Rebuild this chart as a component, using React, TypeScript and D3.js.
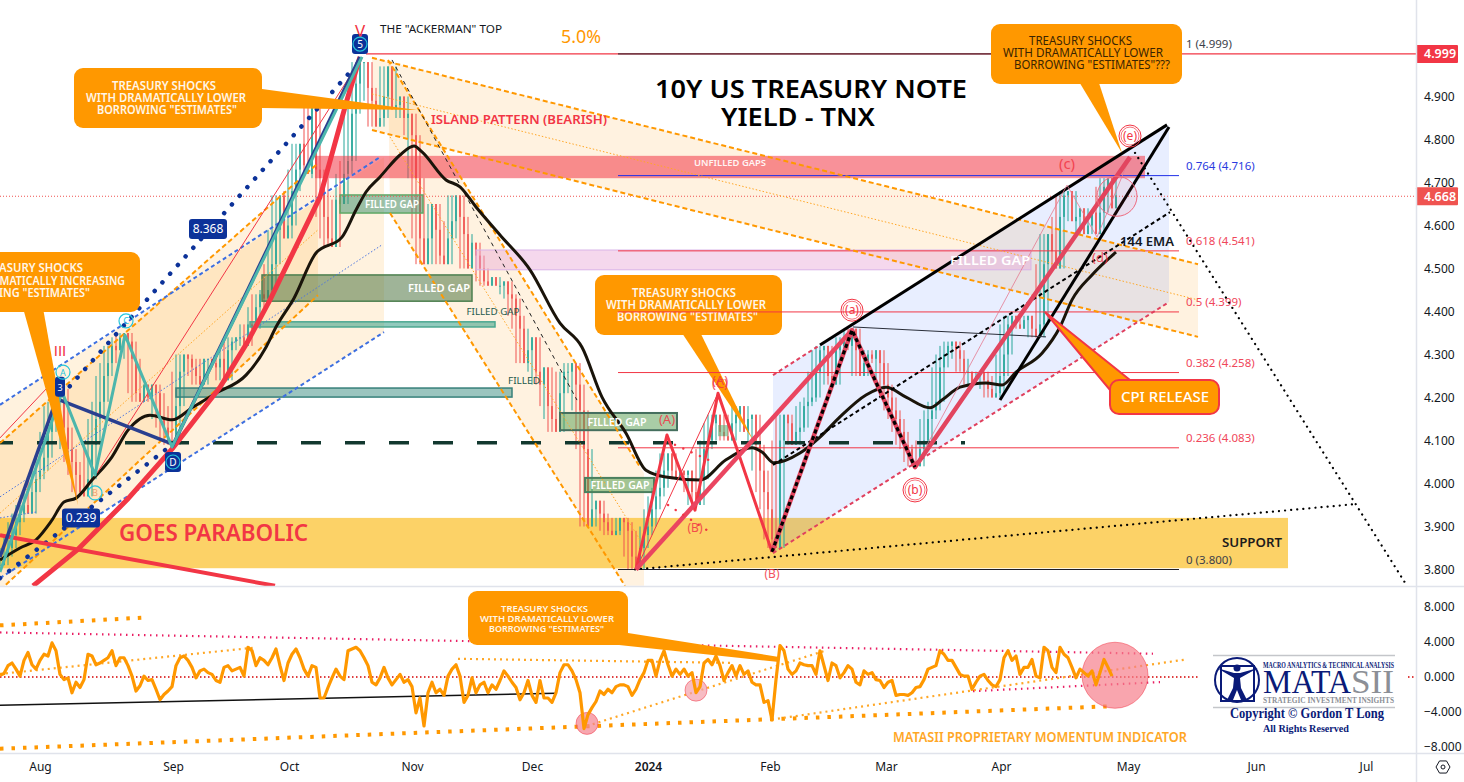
import React, { useRef, useEffect } from 'react';
import * as d3 from 'd3';

type Pt = [number, number];

// x unit is one chart bar, price in yield points
const closesA = [3.81,3.83,3.85,3.88,3.91,3.93,3.95,3.93,3.98,4.01,4.03,4.06,4.12,4.18,4.19,4.22,4.13,4.08,4.05,4.02,3.98,3.97,4.01,4.09,4.15];
const closesB = [4.19,4.25,4.28,4.32,4.31,4.34,4.35,4.33,4.29,4.21,4.19,4.23,4.20,4.23,4.21,4.15,4.13,4.10,4.09,4.18,4.26,4.30,4.29,4.27,4.25];
const closesC = [4.23,4.29,4.29,4.28,4.27,4.29,4.24,4.31,4.33,4.34,4.34,4.32,4.37,4.36,4.41,4.44,4.43,4.45,4.51,4.59,4.67,4.57,4.60,4.68,4.73];
const closesD = [4.79,4.74,4.72,4.89,4.73,4.71,4.62,4.57,4.55,4.66,4.65,4.72,4.75,4.86,4.93,4.98,4.98,4.92,4.89,4.83,4.85,4.90,4.97,4.87,4.88];
const closesE = [4.90,4.85,4.86,4.81,4.71,4.57,4.51,4.57,4.65,4.59,4.53,4.51,4.57,4.61,4.67,4.62,4.58,4.50,4.56,4.53,4.50,4.47,4.46,4.48,4.46];
const closesF = [4.46,4.47,4.44,4.43,4.39,4.36,4.28,4.31,4.34,4.26,4.23,4.27,4.18,4.15,4.12,4.21,4.26,4.26,4.28,4.23,4.17,4.08,3.90,3.94,3.96];
const closesG = [3.93,3.91,3.89,3.88,3.89,3.92,3.91,3.89,3.83,3.80,3.85,3.88,3.90,3.94,3.97,3.99,4.03,4.07,4.03,4.01,4.03,4.02,4.03,3.98,3.95];
const closesH = [4.01,4.08,4.10,4.14,4.16,4.12,4.11,4.10,4.14,4.16,4.18,4.12,4.15,4.16,4.09,4.03,3.98,3.94,3.87,3.85,4.10,4.16,4.14,4.09,4.12];
const closesI = [4.13,4.18,4.19,4.20,4.26,4.31,4.32,4.25,4.23,4.31,4.32,4.34,4.32,4.36,4.31,4.25,4.28,4.30,4.29,4.31,4.28,4.23,4.20,4.17,4.15];
const closesJ = [4.12,4.09,4.08,4.05,4.04,4.08,4.10,4.15,4.17,4.19,4.27,4.30,4.32,4.33,4.31,4.29,4.26,4.26,4.23,4.25,4.26,4.24,4.22,4.20,4.21];
const closesK = [4.25,4.30,4.37,4.39,4.37,4.36,4.38,4.39,4.36,4.34,4.37,4.51,4.58,4.54,4.50,4.62,4.67,4.68,4.61,4.62,4.64,4.58,4.60,4.63,4.58];
const closesL = [4.63,4.69,4.71,4.64,4.67];
const closes = [...closesA, ...closesB, ...closesC, ...closesD, ...closesE, ...closesF, ...closesG, ...closesH, ...closesI, ...closesJ, ...closesK, ...closesL];

const momentumA = [.2,.4,1.3,1.6,.9,.1,1.9,2.8,1.4,.9,1.9,2.6,2.4,3.9,3.0,.3,-.3,-.1,-1.8,-.6,-1.2,-.3,2.6,2.4,1.4,1.6,1.9,2.2,3.0,1.3,2.2,2.2,1.3,.1,-1.6,-1.0,.1,-.4,-.3,-1.4,-2.6,-2.0,-1.6,-1.1,1.3,2.2,2.4,1.9,1.1,-.1];
const momentumB = [.7,.9,.5,.3,-.4,-.6,1.1,1.3,.7,.9,1.1,.1,3.4,3.0,1.3,2.2,1.9,1.4,2.2,3.2,1.3,-.4,1.6,2.6,3.2,2.2,.9,.1,1.3,1.1,-2.4,-2.4,-1.2,-.1,.9,.1,-.3,3.0,3.2,3.4,3.0,2.2,1.3,-.6,-.9,-.1,1.1,-.1,-.9,-.3];
const momentumC = [.3,-.6,-.3,-1.1,-4.1,-2.4,-5.6,-1.8,-.6,-1.8,-1.4,-2.1,.1,.9,1.4,.1,-2.9,-2.1,-.1,-1.8,-.9,-.6,-1.8,-.9,-1.4,-.4,.7,.1,-.6,-1.2,-2.6,-1.8,-.4,-2.1,-2.9,-.4,-2.4,-2.4,-2.9,-1.8,.5,1.4,1.4,.7,-.3,-1.8,-5.9,-4.3,-3.5,-2.8];
const momentumD = [-1.6,-2.0,-1.4,-1.8,-1.1,-.9,-.9,-1.1,-2.1,-1.4,-.3,.5,1.9,1.9,.1,1.9,3.0,1.4,.1,.9,.3,.9,.1,.5,-1.8,-1.1,1.6,2.0,1.4,2.4,1.3,-.4,.5];
const momentumE = [1.3,.1,1.3,.3,.7,-.6,-.9,-.9,-2.9,-2.7,-4.9,-.3,3.6,3.0,.9,.3,.7,1.6,1.4,1.3,1.3,.3,3.0,1.3,-.4,1.6,1.3,-.1,.5,1.3,.9,-.6,-.9,.7,.3,.5,-.3,-.4,-1.2,-.6,-.4,-2.1,-2.0,-2.0,-2.1,-1.8,-1.2,-1.1,-.3];
const momentumF = [.9,1.1,1.3,3.0,2.6,1.9,1.9,1.1,.3,.1,.1,-1.4,-.6,.1,.3,-.4,-.9,-1.1,-.3,2.2,3.0,1.9,2.4,.3,1.1,1.1,2.0,.1,-.1,3.4,3.0,1.1,.5,3.4,2.6,2.2,1.1,-.1,.9,.5,.1,.7,-.9,.5,2.0,1.1,.1];
const momentum = [...momentumA, ...momentumB, ...momentumC, ...momentumD, ...momentumE, ...momentumF];

const ema144: Pt[] = [[0,3.822],[10,3.85],[18,3.869],[26,3.915],[32,3.957],[38,3.966],[46,4.008],[56,4.062],[64,4.124],[75,4.159],[86,4.148],[96,4.176],[108,4.21],[123,4.252],[133,4.317],[138,4.364],[147,4.431],[158,4.536],[171,4.573],[178,4.636],[183,4.678],[190,4.713],[200,4.764],[207,4.785],[211,4.771],[223,4.706],[230,4.69],[238,4.643],[250,4.578],[265,4.497],[280,4.373],[291,4.317],[301,4.201],[313,4.117],[323,4.031],[333,4.015],[350,4.008],[363,4.055],[376,4.083],[381,4.073],[387,4.048],[400,4.071],[410,4.108],[420,4.155],[433,4.206],[443,4.224],[453,4.201],[465,4.176],[471,4.194],[480,4.224],[493,4.234],[501,4.229],[508,4.259],[521,4.303],[530,4.364],[536,4.427],[546,4.485],[558,4.538]];

const fibLevels = ['1', '0.764', '0.618', '0.5', '0.382', '0.236', '0'];
const fibPrices = [4.999, 4.716, 4.541, 4.399, 4.258, 4.083, 3.8];

const priceTicks = [4.9, 4.8, 4.7, 4.6, 4.5, 4.4, 4.3, 4.2, 4.1, 4.0, 3.9, 3.8];
const momentumTicks = [8, 4, 0, -4, -8];
const monthLabels = ['Aug', 'Sep', 'Oct', 'Nov', 'Dec', '2024', 'Feb', 'Mar', 'Apr', 'May', 'Jun', 'Jul'];
const monthBars = [20, 86.5, 144.5, 206, 266, 324, 385, 443, 500.5, 564, 628, 683];

// drawings
const upChannelOuter: Pt[] = [[0,4.183],[192,4.759],[192,4.352],[0,3.78]];
const upChannelInner: Pt[] = [[0,4.094],[159,4.745],[159,4.438],[0,3.752]];
const wideChannel: Pt[] = [[186,4.99],[599,4.51],[599,4.341],[186,4.822]];
const steepChannel: Pt[] = [[194,4.985],[322,4.024],[322,3.762],[312.5,3.762],[195,4.629]];
const blueChannel: Pt[] = [[386.5,4.252],[584.5,4.834],[584.5,4.422],[386.5,3.838]];
const parabola: Pt[] = [[16.5,3.762],[38.5,3.845],[63.5,3.962],[86.5,4.083],[110,4.224],[123.5,4.327],[135,4.427],[160,4.666],[173.5,4.892],[180,4.992]];
const redDown: Pt[] = [[0,3.88],[137.5,3.762]];
const waveZig: Pt[] = [[318,3.8],[333.5,4.113],[347.5,3.938],[359,4.21],[386,3.841]];
const waveThick: Pt[] = [[318,3.8],[426,4.357]];
const waveThick2: Pt[] = [[386,3.841],[426,4.357],[457.5,4.038],[565,4.759]];
const wavePale: Pt[] = [[426,4.357],[457.5,4.038],[533.5,4.694],[548.5,4.573],[565,4.759]];
const blackZig: Pt[] = [[386,3.841],[426,4.357],[457.5,4.038]];
const tealZig: Pt[] = [[0,3.794],[31,4.213],[47.5,4.02],[62.5,4.345],[86,4.085],[181,4.992]];

const orangeDashed: Pt[][] = [
  [[0,4.094],[159,4.745]], [[0,3.752],[159,4.438]],
  [[186,4.99],[599,4.51]], [[186,4.822],[599,4.341]],
  [[194,4.985],[320,4.038]], [[195,4.629],[312.5,3.762]],
];
const orangeThinDotted: Pt[][] = [
  [[0,3.931],[159,4.59]], [[186,4.906],[599,4.427]], [[195,4.806],[320,3.869]],
];
const blueDashed: Pt[][] = [[[0,4.183],[190,4.759]], [[0,3.78],[192,4.352]]];
const blueThinDotted: Pt[][] = [[[0,3.969],[191,4.555]], [[0,3.92],[18.5,3.934]]];
const navyDotted: Pt[][] = [[[31,4.206],[176,4.962]], [[0,3.78],[86,4.09]]];
const navyLines: Pt[][] = [[[0,3.829],[29,4.206]], [[86,4.085],[180,4.992]], [[30,4.194],[85,4.094]]];
const redThin: Pt[][] = [[[0,4.106],[23.5,4.222]], [[48.5,4.024],[178.5,4.973]], [[318,3.8],[359,4.21]]];
const redDashed: Pt[][] = [[[386.5,4.252],[410,4.322]], [[386.5,3.838],[584.5,4.422]]];
const redDots: Pt[][] = [[[337.5,4.09],[356.5,4.05]], [[334,3.95],[354,3.89]]];
const blackWedge: Pt[][] = [[[410,4.322],[583.5,4.834]], [[500,4.194],[584.5,4.829]]];
const blackDashed: Pt[] = [[386.5,4.043],[585,4.631]];
const blackThin: Pt[] = [[426.5,4.364],[523,4.341]];
const blackDotted: Pt[][] = [[[317.5,3.8],[677.5,3.952]], [[567.5,4.769],[703.5,3.762]]];
const thinBlackDash: Pt[] = [[196,4.985],[288.5,4.194]];

// [bar from, bar to, price top, price bottom]
const greenGaps: number[][] = [[170,211.5,4.671,4.629],[131,236,4.485,4.424],[125,247.5,4.376,4.364],[88,256,4.222,4.201],[280,338.5,4.164,4.124],[292.5,327,4.013,3.98],[359,364,4.136,4.11]];
const unfilledZone = [157.5,572.5,4.762,4.71];
const pinkZone = [238,515.5,4.543,4.497];
const supportZone = [0,644,3.92,3.803];

// indicator pane drawings: [bar, value]
const indPink: Pt[][] = [[[0,5.09],[576.5,2.66]], [[486.5,-1.62],[580,-.58]]];
const indOrangeBig: Pt[][] = [[[0,5.9],[74.5,6.82]], [[0,-8.2],[554.5,-3.35]]];
const indOrangeSmall: Pt[][] = [[[0,.35],[127,3.35]], [[293.5,-5.6],[412.5,3.0]], [[386,-4.86],[592,1.97]], [[229,2.08],[365,1.62]]];
const indBlack: Pt[] = [[0,-3.24],[278,-1.85]];

const FONT = '"Noto Sans", sans-serif';
const SERIF = '"Liberation Serif", serif';

const App = () => {
  const ref = useRef<SVGSVGElement>(null);

  useEffect(() => {
    const svg = d3.select(ref.current);
    svg.selectAll('*').remove();

    const xBar = d3.scaleLinear().domain([0, 732]).range([0, 1464]);
    const yPrice = d3.scaleLinear().domain([3.8, 4.9]).range([569.5, 96.5]);
    const yMom = d3.scaleLinear().domain([-8, 8]).range([747, 607]);

    const defs = svg.append('defs');
    defs.append('clipPath').attr('id', 'mainClip').append('rect').attr('x', 0).attr('y', 0).attr('width', 1416).attr('height', 586);
    defs.append('clipPath').attr('id', 'indClip').append('rect').attr('x', 0).attr('y', 587).attr('width', 1416).attr('height', 166);

    const main = svg.append('g').attr('clip-path', 'url(#mainClip)');
    const ind = svg.append('g').attr('clip-path', 'url(#indClip)');
    const top = svg.append('g');

    const priceLine = d3.line<Pt>().x(d => xBar(d[0])).y(d => yPrice(d[1]));
    const momLine = d3.line<Pt>().x(d => xBar(d[0])).y(d => yMom(d[1]));

    const stroke = (g: any, gen: any, pts: Pt[], color: string, w: number, dash?: string, cap?: string, op?: number) => {
      g.append('path').attr('d', gen(pts)).attr('fill', 'none').attr('stroke', color).attr('stroke-width', w)
        .attr('stroke-dasharray', dash || null).attr('stroke-linecap', cap || 'butt').attr('stroke-linejoin', 'round')
        .attr('opacity', op === undefined ? 1 : op);
    };
    const area = (pts: Pt[], color: string, op = 1) => {
      main.append('path').attr('d', priceLine(pts) + 'Z').attr('fill', color).attr('opacity', op);
    };
    const zone = (z: number[], fill: string, op: number, border?: string, bw = 1) => {
      main.append('rect').attr('x', xBar(z[0])).attr('y', yPrice(z[2])).attr('width', xBar(z[1]) - xBar(z[0])).attr('height', yPrice(z[3]) - yPrice(z[2]))
        .attr('fill', fill).attr('fill-opacity', op).attr('stroke', border || 'none').attr('stroke-width', bw);
    };
    const txt = (g: any, x: number, y: number, s: string, o: any = {}) => {
      const t = g.append('text').attr('x', x).attr('y', y).text(s)
        .attr('font-family', o.font || FONT).attr('font-size', o.size || 12).attr('fill', o.fill || '#131722')
        .attr('font-weight', o.weight || 'normal').attr('text-anchor', o.anchor || 'start').attr('opacity', o.op === undefined ? 1 : o.op);
      if (o.len) t.attr('textLength', o.len).attr('lengthAdjust', 'spacingAndGlyphs');
      return t;
    };
    const callout = (g: any, x: number, y: number, w: number, h: number, tail: number[][], lines: any[], color: string, size: number, weight = 600, border?: string) => {
      g.append('path').attr('d', d3.line()(tail as any) + 'Z').attr('fill', '#ff9800').attr('stroke', border || 'none').attr('stroke-width', 2);
      g.append('rect').attr('x', x).attr('y', y).attr('width', w).attr('height', h).attr('rx', 9).attr('fill', '#ff9800').attr('stroke', border || 'none').attr('stroke-width', 2);
      lines.forEach(l => txt(g, l[1], l[2], l[0], { size, fill: color, len: l[3], weight }));
    };

    // fills under the candles
    area(upChannelOuter, '#ff9800', 0.13);
    area(upChannelInner, '#ff9800', 0.13);
    area(wideChannel, '#ff9800', 0.12);
    area(steepChannel, '#ff9800', 0.12);
    zone(supportZone, '#fbc02d', 0.72);
    area(blueChannel, '#2962ff', 0.11);

    // candles, wicks reach the nearby swing
    closes.forEach((c, i) => {
      const bar = i * 2;
      const prev = i > 0 ? closes[i - 1] : c;
      const near = closes.slice(Math.max(0, i - 2), i + 3);
      const color = c >= prev ? '#26a69a' : '#ef5350';
      const cx = xBar(bar);
      main.append('line').attr('x1', cx).attr('x2', cx).attr('y1', yPrice(d3.max(near))).attr('y2', yPrice(d3.min(near)))
        .attr('stroke', color).attr('stroke-width', 1);
      main.append('rect').attr('x', cx - 0.8).attr('width', 1.6).attr('y', yPrice(Math.max(prev, c))).attr('height', Math.max(1, Math.abs(yPrice(c) - yPrice(prev))))
        .attr('fill', color);
    });

    // gap zones
    zone(unfilledZone, '#f23645', 0.55);
    zone(pinkZone, '#e9a8d8', 0.45, '#d9b4e8');
    const gapStyles = [['#3f8f6f', '#5fa866'], ['#476f3a', '#4d7f4f'], ['#2c9a80', '#4ba890'], ['#3f8f85', '#37807a'], ['#5a9f55', '#456f5e'], ['#4f9a4a', '#4a7f5e'], ['#4caf70', 'none']];
    greenGaps.forEach((z, i) => zone(z, gapStyles[i][0], 0.52, gapStyles[i][1], i > 3 && i < 6 ? 2 : 1.5));

    // mid callout sits below the fib lines
    callout(main, 595, 275, 187, 60, [[680, 330], [699, 330], [753, 440]],
      [['TREASURY SHOCKS', 632, 297, 104], ['WITH DRAMATICALLY LOWER', 606, 309, 160], ['BORROWING "ESTIMATES"', 617, 321, 141]], '#fff6e8', 12);

    // key level + current price
    main.append('line').attr('x1', 0).attr('x2', 965).attr('y1', yPrice(4.095)).attr('y2', yPrice(4.095)).attr('stroke', '#12382f').attr('stroke-width', 3.5).attr('stroke-dasharray', '20 24').attr('stroke-dashoffset', 7);
    main.append('line').attr('x1', 0).attr('x2', 1416).attr('y1', yPrice(4.668)).attr('y2', yPrice(4.668)).attr('stroke', '#ef5350').attr('stroke-width', 1).attr('stroke-dasharray', '1 2');
    main.append('line').attr('x1', xBar(183)).attr('x2', 1416).attr('y1', yPrice(4.999)).attr('y2', yPrice(4.999)).attr('stroke', '#f23645').attr('stroke-width', 1.2);

    // fib levels
    fibPrices.forEach((p, i) => {
      const c = i === 1 ? '#2030e8' : i === 0 || i === 6 ? '#1c1c28' : '#f23645';
      main.append('line').attr('x1', xBar(309)).attr('x2', xBar(589.5)).attr('y1', yPrice(p)).attr('y2', yPrice(p)).attr('stroke', c).attr('stroke-width', 1);
      const tc = i === 1 ? '#2a3ae0' : i === 0 || i === 6 ? '#3c3f4a' : '#f0475a';
      txt(main, 1186, yPrice(p) - 6, `${fibLevels[i]} (${p.toFixed(3)})`, { size: 11.5, fill: tc });
    });

    // channels
    orangeDashed.forEach(l => stroke(main, priceLine, l, '#ff9800', 2, '5 3'));
    orangeThinDotted.forEach(l => stroke(main, priceLine, l, '#ffa726', 1, '1.5 2'));
    blueDashed.forEach(l => stroke(main, priceLine, l, '#3d6fe0', 2, '4 3'));
    blueThinDotted.forEach(l => stroke(main, priceLine, l, '#4a74e0', 1, '1.5 2'));
    navyDotted.forEach(l => stroke(main, priceLine, l, '#0c3299', 4.5, '0.1 11.5', 'round'));
    stroke(main, priceLine, thinBlackDash, '#202020', 1, '4 4');

    // ema
    stroke(main, d3.line<Pt>().x(d => xBar(d[0])).y(d => yPrice(d[1])).curve(d3.curveMonotoneX), ema144, '#1a140a', 3);

    // wave lines, left side
    stroke(main, priceLine, parabola, '#f23645', 5);
    stroke(main, priceLine, redDown, '#f23645', 4);
    redThin.forEach(l => stroke(main, priceLine, l, '#f23645', 1));
    navyLines.forEach(l => stroke(main, priceLine, l, '#2a3f8f', 3.5));
    stroke(main, priceLine, tealZig, '#4db6ac', 3);

    // wave lines, right side
    blackWedge.forEach(l => stroke(main, priceLine, l, '#000', 3));
    stroke(main, priceLine, blackThin, '#2a2e39', 1);
    stroke(main, priceLine, blackDashed, '#000', 2, '4 3');
    blackDotted.forEach(l => stroke(main, priceLine, l, '#000', 2.2, '0.1 6', 'round'));
    stroke(main, priceLine, wavePale, '#e57b91', 1, undefined, undefined, 0.8);
    stroke(main, priceLine, waveZig, '#f23645', 3);
    stroke(main, priceLine, waveThick, '#ea4560', 4.5);
    stroke(main, priceLine, waveThick2, '#e2455f', 4.5);
    stroke(main, priceLine, blackZig, '#000', 3.2, '4 3');
    redDashed.forEach(l => stroke(main, priceLine, l, '#e0405e', 2, '4 3'));
    redDots.forEach(l => stroke(main, priceLine, l, '#f23645', 2.4, '0.1 9', 'round'));

    // circle on the last candles
    main.append('circle').attr('cx', xBar(558.5)).attr('cy', yPrice(4.668)).attr('r', 20).attr('fill', '#f23645').attr('fill-opacity', 0.08).attr('stroke', '#ee6a80').attr('stroke-width', 1);

    // callouts
    callout(main, 74, 68, 188, 60, [[262, 89], [262, 108], [417, 110]],
      [['TREASURY SHOCKS', 112, 90, 104], ['WITH DRAMATICALLY LOWER', 86, 102, 160], ['BORROWING "ESTIMATES"', 97, 114, 140]], '#fff6e8', 12);
    callout(main, -60, 252, 200, 60, [[23, 308], [43, 308], [78, 505]],
      [['TREASURY SHOCKS', -21, 272, 104], ['WITH DRAMATICALLY INCREASING', -53, 285, 178], ['BORROWING "ESTIMATES"', -50, 297, 140]], '#fff6e8', 12);
    callout(main, 991, 24, 191, 60, [[1078, 80], [1098, 80], [1122, 153]],
      [['TREASURY SHOCKS', 1029, 45, 103], ['WITH DRAMATICALLY LOWER', 1003, 57, 160], ['BORROWING "ESTIMATES"???', 1014, 69, 156]], '#3a2400', 12, 400);
    callout(main, 1110, 380, 109, 34, [[1045, 312], [1130, 380], [1110, 390]], [], '#fff', 14, 400, '#f23645');
    txt(main, 1121, 402, 'CPI RELEASE', { size: 14, fill: '#fff', len: 88, weight: 500 });

    // zone text
    txt(main, xBar(365), yPrice(4.738), 'UNFILLED GAPS', { size: 9, fill: '#fff4f4', anchor: 'middle', len: 72, weight: 600 });
    txt(main, xBar(495), yPrice(4.52) + 5, 'FILLED GAP', { size: 13, fill: '#fff', anchor: 'middle', len: 80, weight: 600 });
    txt(main, xBar(196), yPrice(4.65) + 4, 'FILLED GAP', { size: 10, fill: '#fff', anchor: 'middle', len: 54, weight: 600 });
    txt(main, xBar(219.5), yPrice(4.455) + 4, 'FILLED GAP', { size: 11, fill: '#fff', anchor: 'middle', len: 62, weight: 600 });
    txt(main, xBar(246.5), yPrice(4.399) + 3, 'FILLED GAP', { size: 9, fill: '#24594c', anchor: 'middle', len: 53 });
    txt(main, xBar(262), yPrice(4.238) + 3, 'FILLED', { size: 9, fill: '#24594c', anchor: 'middle', len: 32 });
    txt(main, xBar(308.5), yPrice(4.143) + 4, 'FILLED GAP', { size: 11, fill: '#fff', anchor: 'middle', len: 59, weight: 600 });
    txt(main, xBar(310), yPrice(3.997) + 4, 'FILLED GAP', { size: 11, fill: '#fff', anchor: 'middle', len: 59, weight: 600 });
    txt(main, xBar(626), yPrice(3.864) + 5, 'SUPPORT', { size: 12, fill: '#1c1c1c', anchor: 'middle', len: 60, weight: 600 });

    // notes
    txt(main, 380, 33, 'THE "ACKERMAN" TOP', { size: 11, fill: '#131722', len: 122 });
    txt(main, 561, 43, '5.0%', { size: 18, fill: '#ff9800', len: 40 });
    txt(main, 811, 98, '10Y US TREASURY NOTE', { size: 26, fill: '#000', anchor: 'middle', len: 312, weight: 600 });
    txt(main, 798, 126, 'YIELD - TNX', { size: 26, fill: '#000', anchor: 'middle', len: 154, weight: 600 });
    txt(main, 431, 124, 'ISLAND PATTERN (BEARISH)', { size: 13, fill: '#f23645', len: 176, weight: 600 });
    txt(main, 119, 541, 'GOES PARABOLIC', { size: 24, fill: '#f23645', len: 189, weight: 600 });
    txt(main, 1120, 246, '144 EMA', { size: 13, fill: '#131722', len: 54, weight: 600 });

    // wave labels
    const waves: any[] = [['(A)', 333.5, 4.148, 13], ['(A)', 360, 4.238, 13], ['(C)', 360, 4.232, 13], ['(B)', 347.5, 3.897, 12], ['(B)', 386, 3.79, 12], ['(c)', 533.5, 4.741, 15], ['(d)', 550, 4.524, 13]];
    waves.forEach(w => txt(main, xBar(w[1]), yPrice(w[2]) + 4, w[0], { size: w[3], fill: '#f23645', anchor: 'middle', op: 0.85 }));
    const rings: any[] = [['(a)', 426, 4.403, 11], ['(b)', 457.5, 3.985, 12], ['(e)', 565, 4.808, 11]];
    rings.forEach(r => {
      main.append('circle').attr('cx', xBar(r[1])).attr('cy', yPrice(r[2])).attr('r', r[3]).attr('fill', 'none').attr('stroke', '#f23645').attr('stroke-width', 1);
      main.append('circle').attr('cx', xBar(r[1])).attr('cy', yPrice(r[2])).attr('r', r[3] - 2).attr('fill', 'none').attr('stroke', '#f23645').attr('stroke-width', 0.7);
      txt(main, xBar(r[1]), yPrice(r[2]) + 4, r[0], { size: 12, fill: '#f23645', anchor: 'middle' });
    });
    txt(main, xBar(30), yPrice(4.31) + 6, 'III', { size: 15, fill: '#f23645', anchor: 'middle', font: '"Liberation Sans", sans-serif' });

    const navyTag = (bar: number, price: number, w: number, h: number, label: string, size = 12) => {
      main.append('rect').attr('x', xBar(bar) - w / 2).attr('y', yPrice(price) - h / 2).attr('width', w).attr('height', h).attr('rx', 3).attr('fill', '#0c3299');
      txt(main, xBar(bar), yPrice(price) + 4, label, { size, fill: '#fff', anchor: 'middle' });
    };
    navyTag(104, 4.592, 38, 20, '8.368');
    navyTag(40.5, 3.92, 38, 19, '0.239');
    navyTag(180, 5.022, 16, 20, '5', 10);
    navyTag(86.5, 4.05, 16, 20, 'D', 10);
    navyTag(30, 4.225, 10, 20, '3', 9);
    txt(main, xBar(180), yPrice(5.052) + 6, 'V', { size: 17, fill: '#f23645', anchor: 'middle' });
    const cyanRings: any[] = [['A', 31.5, 4.259, '#26c6da'], ['C', 63, 4.378, '#26c6da'], ['B', 47.5, 3.978, '#f0a070'], ['5', 180, 5.022, '#26c6da'], ['D', 86.5, 4.05, '#26c6da']];
    cyanRings.forEach(r => {
      main.append('circle').attr('cx', xBar(r[1])).attr('cy', yPrice(r[2])).attr('r', 7).attr('fill', 'none').attr('stroke', '#26c6da').attr('stroke-width', 1.2);
      if (r[0] === 'A' || r[0] === 'C' || r[0] === 'B') txt(main, xBar(r[1]), yPrice(r[2]) + 3.5, r[0], { size: 9, fill: r[3], anchor: 'middle' });
    });

    // momentum pane
    ind.append('line').attr('x1', 0).attr('x2', 1200).attr('y1', yMom(0)).attr('y2', yMom(0)).attr('stroke', '#d50000').attr('stroke-width', 1.5).attr('stroke-dasharray', '1.5 2.5');
    ind.append('line').attr('x1', 1408).attr('x2', 1416).attr('y1', yMom(0)).attr('y2', yMom(0)).attr('stroke', '#d50000').attr('stroke-width', 1.5).attr('stroke-dasharray', '1.5 2.5');
    indPink.forEach(l => stroke(ind, momLine, l, '#e91e63', 2.2, '1.5 4.5'));
    indOrangeBig.forEach(l => stroke(ind, momLine, l, '#ff9800', 4, '3.5 8'));
    indOrangeSmall.forEach(l => stroke(ind, momLine, l, '#ffa726', 2.2, '2 4'));
    stroke(ind, momLine, indBlack, '#111', 1.5);
    const spots: any[] = [[293.5, -5.3, 11, '#f4828e'], [348, -1.5, 11, '#f4a0aa'], [557.5, 0.2, 33, '#f77f8c']];
    spots.forEach(s => ind.append('circle').attr('cx', xBar(s[0])).attr('cy', yMom(s[1])).attr('r', s[2]).attr('fill', s[3]).attr('fill-opacity', 0.7).attr('stroke', '#f23645').attr('stroke-opacity', 0.5));
    stroke(ind, momLine, momentum.map((v, i) => [i * 2, v] as Pt), '#ff9800', 3.2);

    callout(ind, 468, 591, 160, 54, [[628, 633], [779, 657], [779, 662], [619, 645]],
      [['TREASURY SHOCKS', 501, 611.5, 87], ['WITH DRAMATICALLY LOWER', 480, 621.5, 134], ['BORROWING "ESTIMATES"', 489, 631.5, 115]], '#fff6e8', 9.5);
    txt(ind, 893, 742, 'MATASII PROPRIETARY MOMENTUM INDICATOR', { size: 13.5, fill: '#ffa726', len: 294, weight: 600 });

    // logo
    const logo = ind.append('g');
    const navy = '#0a1a78';
    logo.append('line').attr('x1', 1213).attr('x2', 1395).attr('y1', 655.5).attr('y2', 655.5).attr('stroke', '#c4c6ca').attr('stroke-width', 1.5);
    logo.append('line').attr('x1', 1213).attr('x2', 1395).attr('y1', 707.5).attr('y2', 707.5).attr('stroke', '#c4c6ca').attr('stroke-width', 1.5);
    logo.append('circle').attr('cx', 1237).attr('cy', 680).attr('r', 22).attr('fill', '#fff').attr('stroke', navy).attr('stroke-width', 2);
    logo.append('rect').attr('x', 1221).attr('y', 666).attr('width', 33).attr('height', 35).attr('fill', 'none').attr('stroke', navy).attr('stroke-width', 2);
    logo.append('path').attr('d', 'M1217 668 L1234 673 L1240 673 L1258 668 L1240 678 L1241 688 L1247 700 L1241 700 L1237 690 L1233 700 L1227 700 L1233 688 L1234 678 Z').attr('fill', navy);
    logo.append('circle').attr('cx', 1237).attr('cy', 668).attr('r', 3.5).attr('fill', navy);
    txt(logo, 1263, 668, 'MACRO ANALYTICS & TECHNICAL ANALYSIS', { size: 7.5, font: SERIF, weight: 'bold', fill: navy, len: 131 });
    txt(logo, 1263, 693, 'MATA', { size: 34, font: SERIF, fill: navy, len: 88 });
    txt(logo, 1351, 693, 'SII', { size: 34, font: SERIF, fill: '#8c8f96', len: 43 });
    txt(logo, 1263, 703, 'STRATEGIC INVESTMENT INSIGHTS', { size: 8.5, font: SERIF, weight: 'bold', fill: '#8c8f96', len: 131 });
    txt(logo, 1230, 718, 'Copyright © Gordon T Long', { size: 14, font: SERIF, weight: 'bold', fill: navy, len: 154 });
    txt(logo, 1263, 732, 'All Rights Reserved', { size: 10.5, font: SERIF, weight: 'bold', fill: navy, len: 86 });

    // price tags
    const tag = (p: number, fill: string) => {
      top.append('rect').attr('x', 1416).attr('y', yPrice(p) - 9).attr('width', 42).attr('height', 18).attr('rx', 1).attr('fill', fill);
      txt(top, 1424, yPrice(p) + 4.5, p.toFixed(3), { size: 12.5, fill: '#fff', weight: 600 });
    };

    // axes
    const priceAxis = d3.axisRight(yPrice).tickValues(priceTicks).tickFormat(d3.format('.3f') as any).tickSize(0).tickPadding(8);
    const momAxis = d3.axisRight(yMom).tickValues(momentumTicks).tickFormat(d3.format('.3f') as any).tickSize(0).tickPadding(8);
    const monthAxis = d3.axisBottom(xBar).tickValues(monthBars).tickFormat((_, i) => monthLabels[i]).tickSize(0).tickPadding(8);
    const gp = top.append('g').attr('transform', 'translate(1416,0)').call(priceAxis);
    const gm = top.append('g').attr('transform', 'translate(1416,0)').call(momAxis);
    const gx = top.append('g').attr('transform', 'translate(0,754)').call(monthAxis);
    [gp, gm, gx].forEach(a => {
      a.select('.domain').remove();
      a.selectAll('text').attr('font-family', FONT).attr('font-size', 12).attr('fill', '#131722');
    });
    gx.selectAll('text').filter((_, i) => i === 5).attr('font-weight', 600);

    tag(4.999, '#f23645');
    tag(4.668, '#ef5350');

    // pane separators
    const sep = '#e0e3eb';
    top.append('line').attr('x1', 0).attr('x2', 1464).attr('y1', 586.5).attr('y2', 586.5).attr('stroke', sep).attr('stroke-width', 1.5);
    top.append('line').attr('x1', 0).attr('x2', 1464).attr('y1', 753.5).attr('y2', 753.5).attr('stroke', sep).attr('stroke-width', 1.5);
    top.append('line').attr('x1', 1416.5).attr('x2', 1416.5).attr('y1', 0).attr('y2', 782).attr('stroke', sep).attr('stroke-width', 1.5);

    // settings icon
    const hex = d3.range(6).map(i => [1443 + 7 * Math.cos(i * Math.PI / 3), 767 + 7 * Math.sin(i * Math.PI / 3)] as [number, number]);
    top.append('path').attr('d', d3.line()(hex) + 'Z').attr('fill', 'none').attr('stroke', '#131722').attr('stroke-width', 1);
    top.append('circle').attr('cx', 1443).attr('cy', 767).attr('r', 2).attr('fill', 'none').attr('stroke', '#131722');
  }, []);

  return (
    <svg ref={ref} width={1464} height={782} style={{ position: 'fixed', left: 0, top: 0, background: '#fff' }} />
  );
};

export default App;
